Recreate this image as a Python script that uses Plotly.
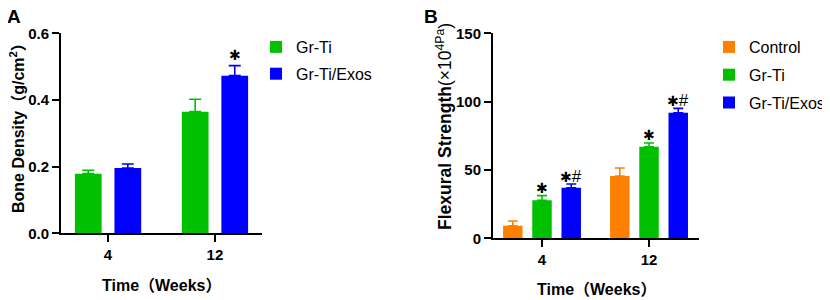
import plotly.graph_objects as go

# ---------------- data ----------------
weeks = ["4", "12"]

# Panel A: bone density (g/cm2)
a_series = ["Gr-Ti", "Gr-Ti/Exos"]
a_grti = [0.179, 0.365]
a_grti_err = [0.010, 0.037]
a_exos = [0.196, 0.473]
a_exos_err = [0.012, 0.030]
a_marks_exos = ["", "✱"]

# Panel B: flexural strength (x10^4 Pa)
b_series = ["Control", "Gr-Ti", "Gr-Ti/Exos"]
b_control = [9.2, 45.6]
b_control_err = [3.5, 5.8]
b_grti = [27.8, 67.0]
b_grti_err = [3.4, 2.7]
b_exos = [37.0, 91.9]
b_exos_err = [2.7, 3.2]
b_marks_grti = ["✱", "✱"]
b_marks_exos = ["✱#", "✱#"]

# ---------------- style ----------------
GREEN = "#00C000"
BLUE = "#0000FF"
ORANGE = "#FF8000"
FONT = "Arial, Liberation Sans, Noto Sans CJK SC, sans-serif"
# the page body has an 8px margin, so the figure fills the rest of the 830x300 window
OFF = 8
W, H = 830 - OFF, 300 - OFF


def fx(xp):
    return (xp - OFF) / W


def fy(yp):
    return 1 - (yp - OFF) / H


fig = go.Figure()


def add_bars(name, y, err, color, xa, ya, width, offset, legend, cap):
    fig.add_trace(go.Bar(
        x=weeks, y=y, name=name, xaxis=xa, yaxis=ya,
        width=width, offset=offset,
        marker=dict(color=color, line=dict(width=0)),
        error_y=dict(type="data", array=err, arrayminus=[0] * len(err), symmetric=False,
                     color=color, thickness=1.6, width=cap),
        legend=legend, legendgroup=legend + name,
    ))


# Panel A
a_w = 0.25
a_off = [-0.31, 0.06]
add_bars(a_series[0], a_grti, a_grti_err, GREEN, "x", "y", a_w, a_off[0], "legend", 6)
add_bars(a_series[1], a_exos, a_exos_err, BLUE, "x", "y", a_w, a_off[1], "legend", 6)

# Panel B
b_w = 0.182
b_off = [-0.364, -0.091, 0.182]
add_bars(b_series[0], b_control, b_control_err, ORANGE, "x2", "y2", b_w, b_off[0], "legend2", 5)
add_bars(b_series[1], b_grti, b_grti_err, GREEN, "x2", "y2", b_w, b_off[1], "legend2", 5)
add_bars(b_series[2], b_exos, b_exos_err, BLUE, "x2", "y2", b_w, b_off[2], "legend2", 5)

annotations = []


def fmt_mark(m):
    return m.replace("#", "<span style='font-family:Arial, Liberation Sans;font-size:17px'>#</span>")


def add_marks(marks, y, err, offset, width, xref, yref, shift):
    for i, m in enumerate(marks):
        if not m:
            continue
        annotations.append(dict(
            x=i + offset + width / 2, y=y[i] + err[i], xref=xref, yref=yref,
            text=fmt_mark(m), showarrow=False, xanchor="center", yanchor="middle", yshift=shift,
            font=dict(family="DejaVu Sans", size=14, color="black"),
        ))


add_marks(a_marks_exos, a_exos, a_exos_err, a_off[1], a_w, "x", "y", 11)
add_marks(b_marks_grti, b_grti, b_grti_err, b_off[1], b_w, "x2", "y2", 8)
add_marks(b_marks_exos, b_exos, b_exos_err, b_off[2], b_w, "x2", "y2", 8)


def add_text(txt, x, y, size, bold=True, angle=0):
    annotations.append(dict(x=fx(x), y=fy(y), xref="paper", yref="paper", text=txt, showarrow=False,
                            xanchor="center", yanchor="middle", textangle=angle,
                            font=dict(family=FONT, size=size, color="black",
                                      weight="bold" if bold else "normal")))


# Panel letters and axis titles
add_text("A", 14, 16, 19)
add_text("B", 431, 16, 19)
add_text("Bone Density（g/cm<sup>2</sup>）", 17, 124, 16, angle=-90)
add_text("<b>Flexural Strength</b>(×10<sup>4Pa</sup>)", 444, 127, 17.5, bold=False, angle=-90)
add_text("Time（Weeks）", 161, 285, 16)
add_text("Time（Weeks）", 596, 289, 16)

tickfont = dict(family=FONT, size=15, color="black", weight="bold")
axis_common = dict(showline=True, linecolor="black", linewidth=2, ticks="outside",
                   ticklen=7, tickwidth=2, tickcolor="black", showgrid=False,
                   zeroline=False, tickfont=tickfont, automargin=False)

legfont = dict(family=FONT, size=16, color="black")

fig.update_layout(
    width=W, height=H,
    margin=dict(l=0, r=0, t=0, b=0, autoexpand=False),
    paper_bgcolor="white", plot_bgcolor="white",
    barmode="overlay",
    showlegend=True,
    xaxis=dict(domain=[fx(61), fx(262)], range=[-0.44, 1.44], type="category",
               anchor="y", **axis_common),
    yaxis=dict(domain=[fy(233.3), fy(33.3)], range=[0, 0.6],
               tickvals=[0, 0.2, 0.4, 0.6], tickformat=".1f", anchor="x", **axis_common),
    xaxis2=dict(domain=[fx(493), fx(699)], range=[-0.458, 1.467], type="category",
                anchor="y2", **axis_common),
    yaxis2=dict(domain=[fy(238.3), fy(33.3)], range=[0, 150],
                tickvals=[0, 50, 100, 150], anchor="x2", **axis_common),
    legend=dict(x=fx(256), y=fy(30), xanchor="left", yanchor="top",
                font=legfont, bgcolor="rgba(0,0,0,0)", traceorder="grouped",
                tracegroupgap=3),
    legend2=dict(x=fx(709), y=fy(30), xanchor="left", yanchor="top",
                 font=legfont, bgcolor="rgba(0,0,0,0)", traceorder="grouped",
                 tracegroupgap=4),
    annotations=annotations,
)

fig.write_html("out.html")
